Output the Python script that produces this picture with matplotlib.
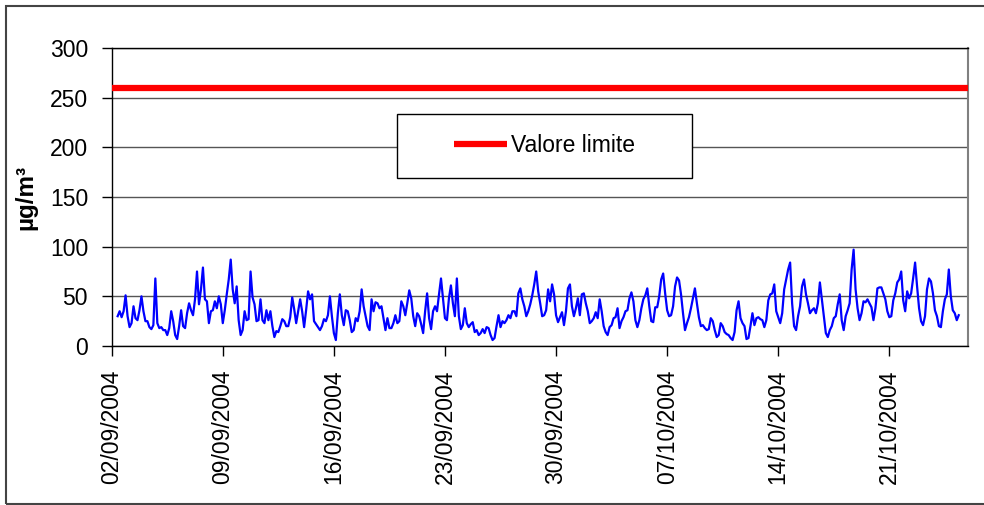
import numpy as np
import pandas as pd
import matplotlib
matplotlib.use("Agg")
import matplotlib.pyplot as plt
from matplotlib.patches import Rectangle

plt.rcParams['font.family'] = ['Liberation Sans', 'DejaVu Sans']

# concentrations, one value every 3 hours
start = "2004-09-02 09:00"
step_hours = 3
conc = [
    30, 35, 29, 35, 51, 30, 19, 23, 40, 28, 26, 36, 50, 35, 25, 25, 19, 17, 21, 68,
    23, 18, 19, 16, 16, 11, 18, 35, 25, 11, 7, 20, 36, 20, 18, 33, 43, 36, 31, 47,
    75, 42, 57, 79, 47, 45, 23, 35, 36, 45, 38, 50, 42, 23, 36, 52, 67, 87, 57, 43,
    60, 26, 11, 16, 35, 26, 27, 75, 49, 42, 25, 26, 47, 26, 23, 36, 26, 35, 20, 9,
    15, 14, 20, 27, 25, 20, 20, 29, 49, 37, 23, 35, 47, 35, 19, 36, 55, 47, 52, 25,
    22, 19, 16, 20, 27, 25, 31, 50, 30, 13, 6, 33, 52, 31, 21, 36, 35, 26, 14, 16,
    28, 25, 35, 57, 40, 30, 20, 16, 47, 35, 44, 43, 38, 40, 28, 16, 28, 18, 18, 23,
    31, 23, 25, 45, 40, 31, 43, 56, 48, 30, 20, 33, 30, 22, 13, 35, 53, 28, 17, 35,
    40, 35, 52, 68, 48, 28, 26, 48, 61, 43, 30, 68, 30, 17, 21, 38, 23, 19, 22, 24,
    14, 16, 11, 13, 17, 13, 19, 18, 11, 6, 8, 20, 31, 19, 25, 23, 26, 31, 28, 35,
    35, 30, 53, 58, 47, 40, 30, 35, 42, 51, 62, 75, 55, 43, 30, 31, 36, 57, 45, 62,
    52, 31, 24, 29, 34, 21, 35, 58, 62, 40, 30, 38, 48, 31, 52, 53, 43, 35, 23, 25,
    28, 34, 28, 47, 35, 20, 14, 11, 19, 21, 28, 29, 38, 18, 25, 29, 35, 36, 48, 54,
    45, 26, 19, 26, 38, 47, 51, 58, 40, 25, 24, 39, 39, 50, 67, 73, 53, 36, 30, 31,
    40, 60, 69, 66, 52, 33, 16, 23, 29, 38, 48, 58, 43, 29, 20, 21, 18, 16, 17, 28,
    25, 16, 9, 11, 23, 20, 14, 12, 11, 8, 6, 14, 36, 45, 28, 23, 20, 7, 8, 20,
    33, 21, 28, 29, 27, 26, 19, 26, 46, 52, 53, 62, 35, 29, 23, 33, 57, 67, 77, 84,
    43, 20, 16, 30, 40, 60, 67, 52, 43, 33, 36, 38, 33, 43, 64, 47, 30, 13, 9, 16,
    20, 28, 30, 42, 52, 26, 16, 30, 36, 43, 77, 97, 57, 38, 26, 33, 45, 44, 47, 43,
    39, 26, 38, 58, 59, 59, 53, 47, 35, 29, 30, 46, 53, 64, 67, 75, 46, 35, 55, 48,
    53, 68, 84, 60, 38, 25, 21, 30, 57, 68, 65, 53, 36, 30, 20, 19, 35, 47, 52, 77,
    50, 36, 33, 26, 31,
]
limit_value = 260
x_start = "2004-09-02 00:00"
x_end = "2004-10-25 23:00"
legend_label = "Valore limite"
y_label = "µg/m³"

times = pd.date_range(start, periods=len(conc), freq=f"{step_hours}h")

fig = plt.figure(figsize=(9.84, 5.05), dpi=100)
ax = fig.add_axes([111.7 / 984, 1 - 346 / 505, (968 - 111.7) / 984, (346 - 48) / 505])

ax.plot(times, conc, color="#0000ff", lw=1.6, zorder=3)
lim_line, = ax.plot([pd.Timestamp(x_start), pd.Timestamp(x_end)], [limit_value, limit_value],
                    color="#ff0000", lw=4.5, solid_capstyle="butt", zorder=4, label=legend_label)

ax.set_xlim(pd.Timestamp(x_start), pd.Timestamp(x_end))
ax.set_ylim(0, 300)
ax.set_yticks(np.arange(0, 301, 50))
ax.yaxis.grid(True, color="#555555", lw=1)
ax.set_axisbelow(True)

ticks = pd.date_range("2004-09-02", periods=8, freq="7D")
ax.set_xticks(ticks)
ax.set_xticklabels([t.strftime("%d/%m/%Y") for t in ticks], rotation=90, va="top", ha="center")

ax.tick_params(axis="both", direction="out", length=7, width=1, labelsize=16.5, color="black")
ax.tick_params(axis="y", pad=10)
ax.tick_params(axis="x", pad=10)

for side in ["left", "bottom", "top"]:
    ax.spines[side].set_color("black")
    ax.spines[side].set_linewidth(1)
ax.spines["right"].set_color("#808080")
ax.spines["right"].set_linewidth(1.5)

fig.text(26 / 984, 1 - 197 / 505, y_label, rotation=90, fontsize=17.5, fontweight="bold",
         ha="center", va="center")

# legend box drawn by hand so it keeps the wide, flat shape of the original
fig.patches.append(Rectangle((397 / 984, 1 - 178 / 505), (692 - 397) / 984, (178 - 114) / 505,
                             transform=fig.transFigure, facecolor="white", edgecolor="black",
                             lw=1, zorder=5))
leg = fig.legend(handles=[lim_line], loc="center", bbox_to_anchor=(544.5 / 984, 1 - 146 / 505),
                 frameon=False, fontsize=16.5, handlelength=2.3, handletextpad=0.15)
leg.set_zorder(6)

# outer chart frame (open on the right, as in the original crop)
fig.patches.append(Rectangle((6 / 984, 1 - 504 / 505), 1.05, (504 - 6) / 505,
                             transform=fig.transFigure, facecolor="none", edgecolor="#444444",
                             lw=1.5, zorder=0))

fig.savefig("out.png", dpi=100)
